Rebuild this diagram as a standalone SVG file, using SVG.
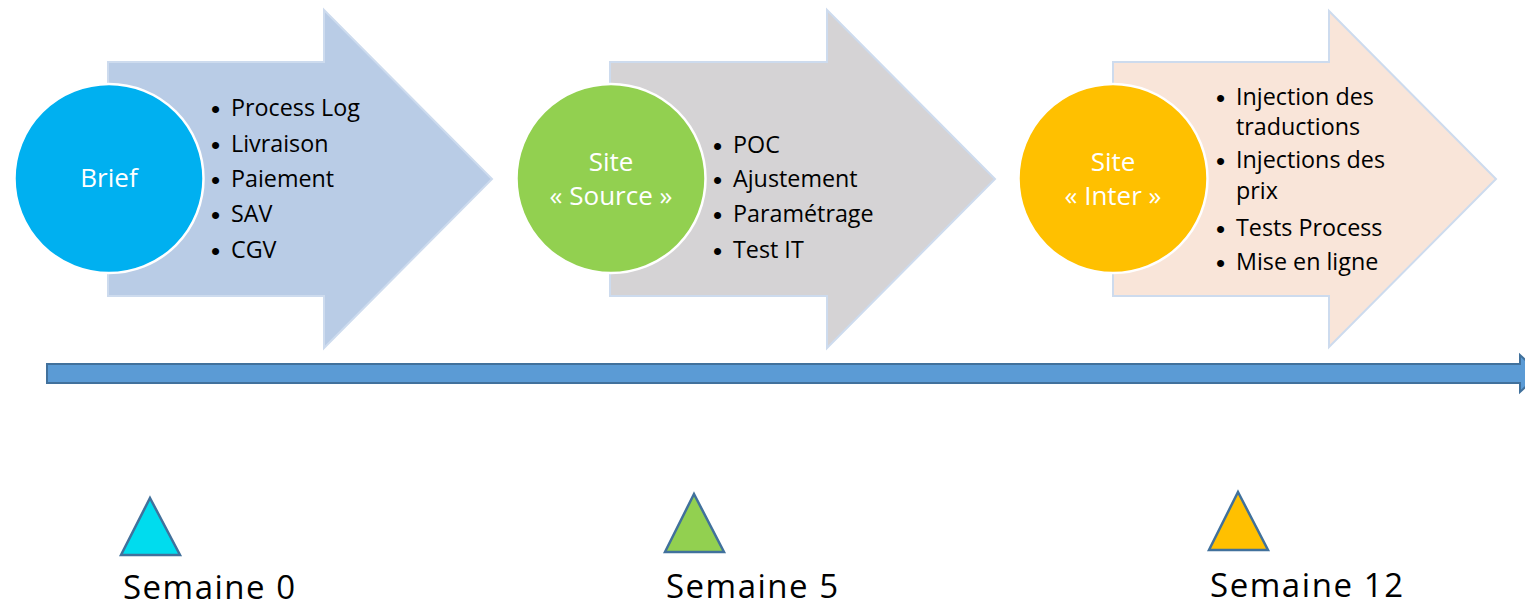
<svg xmlns="http://www.w3.org/2000/svg" width="1525" height="609" viewBox="0 0 1525 609">
<style>
.arrow{stroke:#cddbee;stroke-width:2}
.circ{stroke:#ffffff;stroke-width:2.5}
.ctext{font-family:"Open Sans","Liberation Sans",sans-serif;font-size:26px;fill:#ffffff;text-anchor:middle}
.btext{font-family:"Open Sans","Liberation Sans",sans-serif;font-size:23.3px;fill:#000000}
.dot{font-family:"Liberation Sans",sans-serif;font-size:26px;fill:#000000}
.tri{stroke:#41719c;stroke-width:2.5;stroke-linejoin:miter}
.week{font-family:"Open Sans","Liberation Sans",sans-serif;font-size:33px;fill:#000000}
</style>
<rect width="1525" height="609" fill="#ffffff"/>
<g id="connectors">
<polygon points="47,364 1520,364 1520,355 1540,373.5 1520,392 1520,383 47,383" fill="#5b9bd5" stroke="#41719c" stroke-width="2"/>
</g>
<g id="phase-brief">
<polygon class="arrow" fill="#b9cce6" points="108,62 324,62 324,10 492,179 324,348 324,296 108,296"/>
<circle class="circ" cx="109" cy="178.5" r="94.5" fill="#00b0f0"/>
<text class="ctext" x="109" y="187">Brief</text>
<text class="dot"><tspan x="211" y="118">•</tspan><tspan x="211" y="154">•</tspan><tspan x="211" y="189">•</tspan><tspan x="211" y="224">•</tspan><tspan x="211" y="260">•</tspan></text>
<text class="btext"><tspan x="231" y="116">Process Log</tspan><tspan x="231" y="152">Livraison</tspan><tspan x="231" y="187">Paiement</tspan><tspan x="231" y="222">SAV</tspan><tspan x="231" y="258">CGV</tspan></text>
</g>
<g id="phase-source">
<polygon class="arrow" fill="#d5d3d5" points="610,62 827,62 827,10 995,179 827,348 827,296 610,296"/>
<circle class="circ" cx="611" cy="178.5" r="94.5" fill="#92d050"/>
<text class="ctext" x="611" y="171">Site</text>
<text class="ctext" x="611" y="205">« Source »</text>
<text class="dot"><tspan x="713" y="155">•</tspan><tspan x="713" y="189">•</tspan><tspan x="713" y="224">•</tspan><tspan x="713" y="260">•</tspan></text>
<text class="btext"><tspan x="733" y="153">POC</tspan><tspan x="733" y="187">Ajustement</tspan><tspan x="733" y="222">Paramétrage</tspan><tspan x="733" y="258">Test IT</tspan></text>
</g>
<g id="phase-inter">
<polygon class="arrow" fill="#f9e5d9" points="1113,62 1329,62 1329,11 1496,179 1329,347 1329,296 1113,296"/>
<circle class="circ" cx="1113" cy="178.5" r="94.5" fill="#ffc000"/>
<text class="ctext" x="1113" y="171">Site</text>
<text class="ctext" x="1113" y="205">« Inter »</text>
<text class="dot"><tspan x="1216" y="107">•</tspan><tspan x="1216" y="170">•</tspan><tspan x="1216" y="238">•</tspan><tspan x="1216" y="272">•</tspan></text>
<text class="btext"><tspan x="1236" y="105">Injection des</tspan><tspan x="1236" y="135">traductions</tspan><tspan x="1236" y="168">Injections des</tspan><tspan x="1236" y="199">prix</tspan><tspan x="1236" y="236">Tests Process</tspan><tspan x="1236" y="270">Mise en ligne</tspan></text>
</g>
<g id="milestone-0">
<polygon class="tri" fill="#00dcee" points="150,498 180,555 121,555"/>
<text class="week" x="123" y="599" textLength="172" lengthAdjust="spacing">Semaine 0</text>
</g>
<g id="milestone-5">
<polygon class="tri" fill="#92d050" points="694,494 724,552 665,552"/>
<text class="week" x="666" y="598" textLength="172" lengthAdjust="spacing">Semaine 5</text>
</g>
<g id="milestone-12">
<polygon class="tri" fill="#ffc000" points="1238,492 1268,550 1209,550"/>
<text class="week" x="1210" y="597" textLength="193" lengthAdjust="spacing">Semaine 12</text>
</g>
</svg>
